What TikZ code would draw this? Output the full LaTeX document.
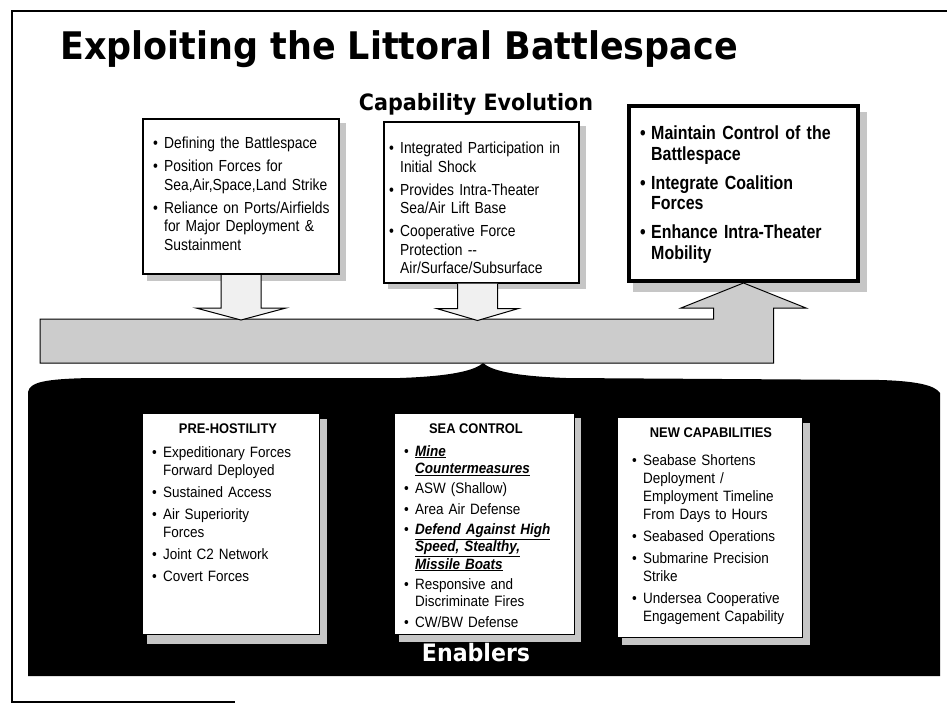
\documentclass[tikz,border=0pt]{standalone}
\usepackage{fontspec}
\setmainfont{Liberation Sans}
\newfontfamily\slidefont{DejaVu Sans}[FakeStretch=0.92]
\newfontfamily\boxfont{Liberation Sans}[FakeStretch=0.865]
\newfontfamily\headfont{Liberation Sans}[FakeStretch=0.92]
\newfontfamily\keyfont{Liberation Sans}[FakeStretch=0.84]
\newfontfamily\enfont{Liberation Sans}[FakeStretch=0.9]
\usetikzlibrary{positioning,calc}
\tikzstyle{capbox} = [draw,line width=2pt,fill=white,inner sep=0pt]
\tikzstyle{shadow} = [fill=gray!45]
\tikzstyle{enbox} = [fill=white,draw=black,line width=1pt,inner sep=0pt]
\tikzstyle{blockarrow} = [draw,line width=1pt,fill=gray!12]
\newif\iffirstbit
\newcommand{\bitem}[1]{\iffirstbit\global\firstbitfalse\else\par\fi
  \hangindent=11pt\hangafter=1\noindent\makebox[11pt][l]{\textbullet}#1}
\newcommand{\uitem}[1]{\underline{\textbf{\textit{#1}}}}

\begin{document}
\begin{tikzpicture}[x=1pt,y=-1pt]
  \tikzstyle{toplist} = [anchor=base west,inner sep=0pt,text width=200pt,
    font=\boxfont\fontsize{16}{18.5}\selectfont,
    execute at begin node={\global\firstbittrue\setlength{\parskip}{4.5pt}\raggedright}]
  \tikzstyle{keylist} = [anchor=base west,inner sep=0pt,text width=215pt,
    font=\keyfont\bfseries\fontsize{19}{20.5}\selectfont,
    execute at begin node={\global\firstbittrue\setlength{\parskip}{8.5pt}\raggedright}]
  \tikzstyle{enlist} = [anchor=base west,inner sep=0pt,text width=175pt,
    font=\enfont\fontsize{15}{18}\selectfont,
    execute at begin node={\global\firstbittrue\setlength{\parskip}{4pt}\raggedright}]
  \tikzstyle{enhead} = [anchor=base,inner sep=0pt,font=\headfont\bfseries\fontsize{14}{16}\selectfont]
  \useasboundingbox (0,0) rectangle (947,704);
  % slide frame
  \draw[line width=1.2pt] (947,11) -| (12,702) -- (235,702);
  \node[anchor=base west,inner sep=0pt,font=\slidefont\bfseries\fontsize{38}{40}\selectfont]
    (slidetitle) at (60,59) {Exploiting the Littoral Battlespace};
  \node[anchor=base,inner sep=0pt,font=\slidefont\bfseries\fontsize{22.5}{24}\selectfont]
    (evotitle) at (476,110) {Capability Evolution};

  % capability boxes
  \fill[shadow] (147,123) rectangle (346,281);
  \fill[shadow] (388,126) rectangle (586,289);
  \fill[shadow] (633,112) rectangle (867,292);
  \node[capbox,minimum width=196pt,minimum height=155pt] (defbox) at (241,196.5) {};
  \node[capbox,minimum width=195pt,minimum height=161pt] (shockbox) at (481.5,202) {};
  \node[capbox,line width=4pt,minimum width=229pt,minimum height=175pt] (controlbox) at (743.5,193.5) {};

  \node[toplist] (deflist) at (153,148.5) {%
    \bitem{Defining the Battlespace}
    \bitem{Position Forces for\newline Sea,Air,Space,Land Strike}
    \bitem{Reliance on Ports/Airfields\newline for Major Deployment \&\newline Sustainment}\par};
  \node[toplist] (shocklist) at (389,153.5) {%
    \bitem{Integrated Participation in\newline Initial Shock}
    \bitem{Provides Intra-Theater\newline Sea/Air Lift Base}
    \bitem{Cooperative Force\newline Protection --\newline Air/Surface/Subsurface}\par};
  \node[keylist] (controllist) at (640,139.5) {%
    \bitem{Maintain Control of the\newline Battlespace}
    \bitem{Integrate Coalition\newline Forces}
    \bitem{Enhance Intra-Theater\newline Mobility}\par};

  % evolution band with the rising arrow
  \path[draw,line width=1pt,fill=gray!40] (40,319) -- (713.5,319) -- (713.5,308) -- (681,308)
    -- (controlbox.south) -- (806,308) -- (773.5,308) -- (773.5,363) -- (40,363) -- cycle;
  \path[blockarrow] ($(defbox.south)+(-20,0)$) -- ($(defbox.south)+(-20,33)$) -- ($(defbox.south)+(-45,33)$)
    -- ($(defbox.south)+(0,45)$) -- ($(defbox.south)+(45,33)$) -- ($(defbox.south)+(20,33)$)
    -- ($(defbox.south)+(20,0)$);
  \path[blockarrow] ($(shockbox.south)+(-24,0)$) -- ($(shockbox.south)+(-24,25)$) -- ($(shockbox.south)+(-45,25)$)
    -- ($(shockbox.south)+(-4,37)$) -- ($(shockbox.south)+(37,25)$) -- ($(shockbox.south)+(16,25)$)
    -- ($(shockbox.south)+(16,0)$);

  % enablers
  \fill[black] (28,676) -- (28,392) .. controls (30,382) and (45,379) .. (90,378) -- (400,378)
    .. controls (455,376) and (475,370) .. (483,363) .. controls (491,370) and (511,376) .. (566,378)
    -- (880,380) .. controls (915,381) and (935,385) .. (940,393) -- (940,676) -- cycle;
  \fill[shadow] (147,419) rectangle (327,644);
  \fill[shadow] (399,418) rectangle (581,642);
  \fill[shadow] (622,423) rectangle (810,645);
  \node[enbox,minimum width=177pt,minimum height=221pt] (prehostbox) at (230.5,523.5) {};
  \node[enbox,minimum width=180pt,minimum height=221pt] (seactrlbox) at (484,523.5) {};
  \node[enbox,minimum width=185pt,minimum height=220pt] (newcapbox) at (709.5,527) {};

  \node[enhead] (prehosthead) at (228,433) {PRE-HOSTILITY};
  \node[enhead] (seactrlhead) at (476,433) {SEA CONTROL};
  \node[enhead] (newcaphead) at (711,437) {NEW CAPABILITIES};
  \node[enlist] (prehostlist) at (152,457) {%
    \bitem{Expeditionary Forces\newline Forward Deployed}
    \bitem{Sustained Access}
    \bitem{Air Superiority\newline Forces}
    \bitem{Joint C2 Network}
    \bitem{Covert Forces}\par};
  \node[enlist,font=\enfont\fontsize{15}{17.2}\selectfont,
    execute at begin node={\global\firstbittrue\setlength{\parskip}{3.3pt}\raggedright}] (seactrllist) at (404,456) {%
    \bitem{\uitem{Mine}\newline \uitem{Countermeasures}}
    \bitem{ASW (Shallow)}
    \bitem{Area Air Defense}
    \bitem{\uitem{Defend Against High}\newline \uitem{Speed, Stealthy,}\newline \uitem{Missile Boats}}
    \bitem{Responsive and\newline Discriminate Fires}
    \bitem{CW/BW Defense}\par};
  \node[enlist] (newcaplist) at (632,465) {%
    \bitem{Seabase Shortens\newline Deployment /\newline Employment Timeline\newline From Days to Hours}
    \bitem{Seabased Operations}
    \bitem{Submarine Precision\newline Strike}
    \bitem{Undersea Cooperative\newline Engagement Capability}\par};
  \node[anchor=base,inner sep=0pt,text=white,font=\slidefont\bfseries\fontsize{24}{26}\selectfont]
    (enablers) at (476,661) {Enablers};
\end{tikzpicture}
\end{document}
